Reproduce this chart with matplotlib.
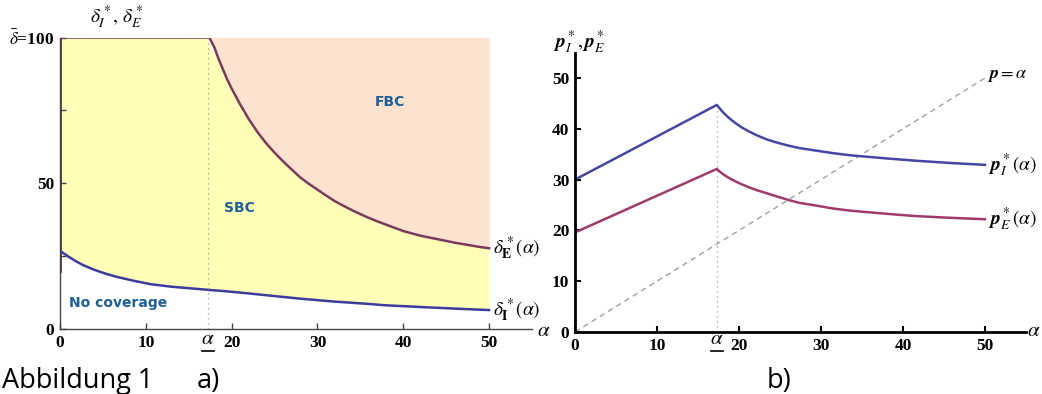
import numpy as np
import matplotlib.pyplot as plt
from matplotlib.lines import Line2D

plt.rcParams['mathtext.fontset'] = 'stix'
plt.rcParams['font.family'] = 'Liberation Serif'

# panel a) thresholds
a_dE = [0, 17.4, 18, 18.5, 19, 19.5, 20, 21, 22, 23, 24, 25, 26, 27, 28, 29, 30, 31, 32, 33, 34, 35,
        36, 37, 38, 39, 40, 41, 42, 43, 44, 45, 46, 47, 48, 49, 50]
dE = [100, 100, 96.5, 92.5, 89, 85.5, 82.5, 77, 72, 67.6, 63.8, 60.5, 57.5, 54.7, 52, 49.8, 47.8, 45.8,
      43.9, 42.3, 40.8, 39.4, 38.1, 36.9, 35.8, 34.7, 33.6, 32.8, 32.0, 31.4, 30.8, 30.2, 29.6, 29.1,
      28.6, 28.1, 27.7]
a_dI = [0, 1, 2, 2.7, 4, 5.3, 6.6, 8.5, 10.5, 13, 15, 17, 19.5, 22, 24, 26, 28, 30, 32, 34, 36, 37.6,
        39.5, 41, 43, 45.3, 47.5, 50]
dI = [26.8, 24.8, 23.0, 21.9, 20.3, 19.0, 17.9, 16.6, 15.4, 14.5, 14.0, 13.5, 12.9, 12.2, 11.6, 11.0,
      10.4, 9.9, 9.4, 9.0, 8.6, 8.2, 7.9, 7.7, 7.4, 7.1, 6.8, 6.5]
alpha_low = 17.3

# panel b) prices
a_p = [0, 17.3, 17.7, 18.2, 18.8, 19.5, 20.3, 21.2, 22.2, 23.4, 24.6, 26, 27.4, 29, 31.5, 33.5, 35.6,
       38.5, 41.7, 45.5, 50]
pI = [30, 44.7, 43.9, 43.0, 42.1, 41.2, 40.3, 39.5, 38.7, 37.9, 37.3, 36.7, 36.2, 35.8, 35.2, 34.8,
      34.5, 34.1, 33.7, 33.3, 32.9]
pE = [19.6, 32.1, 31.5, 30.9, 30.3, 29.7, 29.1, 28.5, 27.9, 27.3, 26.7, 26.0, 25.4, 25.0, 24.3, 23.9,
      23.6, 23.2, 22.8, 22.5, 22.2]

W, H = 1042, 394
fig = plt.figure(figsize=(W / 100, H / 100), dpi=100)


def px(x, y):
    return x / W, 1 - y / H


def style_ticks(a):
    for lab in a.get_xticklabels() + a.get_yticklabels():
        lab.set_fontweight('bold')
        lab.set_fontsize(12.5)


# ---------- a) ----------
ax = fig.add_axes([60 / W, 1 - 329 / H, 472 / W, 291.5 / H])
ax.set_xlim(0, 55)
ax.set_ylim(0, 100)
for s in ['top', 'right']:
    ax.spines[s].set_visible(False)
for s in ['left', 'bottom']:
    ax.spines[s].set_color('#444444')
    ax.spines[s].set_linewidth(1)

ax.fill_between(a_dI, dI, np.interp(a_dI, a_dE, dE), color='#ffffb8', lw=0)
ax.fill_between(a_dE, dE, 100, color='#fde3cf', lw=0)
ax.plot(a_dE, dE, color='#7a3a5e', lw=1.8)
ax.plot([0, 0], [20, 100], color='#5a2a48', lw=2)
ax.plot(a_dI, dI, color='#3c3c9c', lw=1.8)
ax.plot([alpha_low, alpha_low], [0, 100], color='#999999', lw=0.9, ls=(0, (1, 3)))

ax.set_xticks([0, 10, 20, 30, 40, 50])
ax.set_yticks([0, 25, 50, 75, 100])
ax.set_yticklabels(['0', '', '50', '', r'$\bar{\delta}$=100'])
ax.tick_params(direction='in', length=4, width=1, color='#444444', pad=4)
style_ticks(ax)

blue = '#1f5f98'
for x, y, s in [(38.5, 78, 'FBC'), (20.9, 41.5, 'SBC'), (6.8, 9, 'No coverage')]:
    ax.text(x, y, s, color=blue, fontsize=10, fontweight='bold', ha='center', va='center',
            family='DejaVu Sans')
ax.text(50.4, 27.7, r'$\delta^*_{\mathbf{E}}(\alpha)$', fontsize=14, va='center', ha='left')
ax.text(50.4, 6.5, r'$\delta^*_{\mathbf{I}}(\alpha)$', fontsize=14, va='center', ha='left')

fig.text(*px(90, 17), r'$\delta^*_I,\,\delta^*_E$', fontsize=14, ha='left', va='center')
fig.text(*px(537, 331), r'$\alpha$', fontsize=15, ha='left', va='center')
fig.text(*px(208, 340), r'$\alpha$', fontsize=15, ha='center', va='center')
fig.add_artist(Line2D([202 / W, 214 / W], [1 - 351 / H, 1 - 351 / H], color='black', lw=1.2))

# ---------- b) ----------
bx = fig.add_axes([575 / W, 1 - 332 / H, 451 / W, 279.4 / H])
bx.set_xlim(0, 55)
bx.set_ylim(0, 55)
for s in ['top', 'right']:
    bx.spines[s].set_visible(False)
for s in ['left', 'bottom']:
    bx.spines[s].set_linewidth(2)

bx.plot([0, 50], [0, 50], color='#a0a0a0', lw=1, ls=(0, (4, 3)))
bx.plot([alpha_low, alpha_low], [0, pI[1]], color='#999999', lw=0.9, ls=(0, (1, 3)))
bx.plot(a_p, pI, color='#4646a6', lw=1.8)
bx.plot(a_p, pE, color='#a03a6c', lw=1.8)

bx.set_xticks([0, 10, 20, 30, 40, 50])
bx.set_yticks([0, 10, 20, 30, 40, 50])
bx.tick_params(direction='in', length=4, width=1.5, pad=4)
style_ticks(bx)

bx.text(50.2, 50.5, r'$\boldsymbol{p}=\alpha$', fontsize=13, va='center', ha='left')
bx.text(50.4, 32.9, r'$\boldsymbol{p}^*_I(\alpha)$', fontsize=14, va='center', ha='left')
bx.text(50.4, 22.2, r'$\boldsymbol{p}^*_E(\alpha)$', fontsize=14, va='center', ha='left')

fig.text(*px(553, 42), r'$\boldsymbol{p}^*_I,\boldsymbol{p}^*_E$', fontsize=14, ha='left', va='center')
fig.text(*px(1027, 331), r'$\alpha$', fontsize=15, ha='left', va='center')
fig.text(*px(717, 340), r'$\alpha$', fontsize=15, ha='center', va='center')
fig.add_artist(Line2D([711 / W, 723 / W], [1 - 351 / H, 1 - 351 / H], color='black', lw=1.2))

# caption
for x, s in [(2, 'Abbildung 1'), (197, 'a)'), (767, 'b)')]:
    fig.text(*px(x, 388), s, fontsize=19.5, family='Open Sans', ha='left', va='baseline')

fig.savefig('out.png', dpi=100)
